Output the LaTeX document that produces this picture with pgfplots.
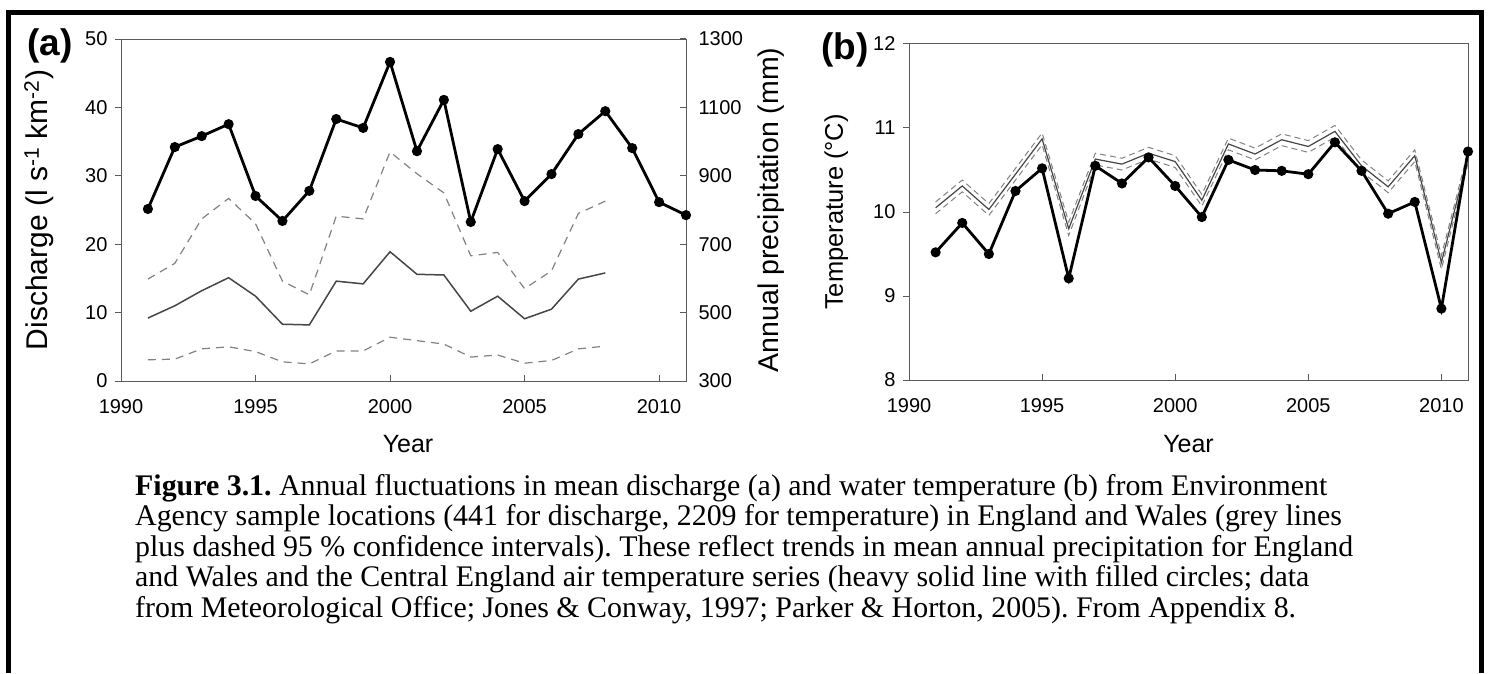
\documentclass[border=0pt]{standalone}
\usepackage{fontspec}
\setmainfont{Liberation Sans}
\newfontfamily\capfont{Liberation Serif}
\usepackage{pgfplots}
\usepackage{pgfplotstable}
\pgfplotsset{compat=1.18}
\frenchspacing

\pgfplotstableread{
year precip
1991 803
1992 984
1993 1016
1994 1051
1995 841
1996 768
1997 856
1998 1066
1999 1040
2000 1233
2001 972
2002 1122
2003 765
2004 978
2005 826
2006 905
2007 1022
2008 1089
2009 981
2010 823
2011 785
}\precip

\pgfplotstableread{
year mean lo hi
1991 9.2 3.1 14.9
1992 11.0 3.2 17.2
1993 13.2 4.7 23.7
1994 15.1 5.0 26.7
1995 12.4 4.3 23.0
1996 8.3 2.8 14.6
1997 8.2 2.5 12.6
1998 14.6 4.4 24.1
1999 14.2 4.4 23.7
2000 18.9 6.4 33.5
2001 15.6 5.9 30.3
2002 15.5 5.4 27.5
2003 10.2 3.5 18.3
2004 12.4 3.8 18.8
2005 9.1 2.6 13.5
2006 10.5 3.0 16.1
2007 14.9 4.7 24.5
2008 15.8 5.1 26.3
}\discharge

\pgfplotstableread{
year air water lo hi
1991 9.52 10.05 9.98 10.12
1992 9.87 10.31 10.24 10.38
1993 9.50 10.03 9.96 10.10
1994 10.25 10.45 10.38 10.52
1995 10.52 10.87 10.80 10.94
1996 9.21 9.80 9.72 9.88
1997 10.55 10.63 10.56 10.70
1998 10.34 10.57 10.50 10.64
1999 10.65 10.70 10.63 10.77
2000 10.31 10.60 10.53 10.67
2001 9.94 10.14 10.07 10.21
2002 10.62 10.81 10.74 10.88
2003 10.50 10.69 10.62 10.76
2004 10.49 10.86 10.79 10.93
2005 10.45 10.78 10.71 10.85
2006 10.83 10.96 10.89 11.03
2007 10.49 10.55 10.48 10.62
2008 9.98 10.30 10.23 10.37
2009 10.12 10.67 10.60 10.74
2010 8.85 9.40 9.32 9.48
2011 10.72 10.65 10.58 10.72
}\temps

\definecolor{axisgrey}{RGB}{90,90,90}
\definecolor{meangrey}{RGB}{70,70,70}
\definecolor{cigrey}{RGB}{130,130,130}

\pgfplotsset{
  base/.style={
    scale only axis,
    clip=false,
    axis line style={axisgrey, line width=1pt},
    tick style={axisgrey, line width=1pt},
    major tick length=6pt,
    tick label style={font=\fontsize{20}{24}\selectfont},
    label style={font=\fontsize{24}{28}\selectfont},
    /pgf/number format/assume math mode=true,
    /pgf/number format/1000 sep={},
    xmin=1990, xmax=2011,
    xtick={1990,1995,2000,2005,2010},
  },
  heavy/.style={black, line width=2.8pt, mark=*, mark size=3.6pt, mark options={solid}},
  meanline/.style={meangrey, line width=1.5pt},
  ciline/.style={cigrey, line width=1.2pt, dash pattern=on 8pt off 6pt},
}

\begin{document}
\begin{tikzpicture}[x=1pt,y=1pt]
\useasboundingbox (0,0) rectangle (1490,673);
\fill[white] (0,0) rectangle (1490,673);
% outer frame
\draw[black, line width=5pt] (8.5,0) -- (8.5,660) -- (1481.5,660) -- (1481.5,0);

% ---------- panel (a) ----------
\begin{axis}[base,
  at={(121pt,292pt)}, anchor=south west,
  width=565pt, height=342pt,
  ymin=0, ymax=50, ytick={0,10,...,50},
  tick pos=left,
  xtick align=inside, ytick align=outside,
  xticklabel style={yshift=-14.5pt},
  yticklabel style={xshift=-4pt},
  xlabel={Year},
  xlabel style={at={(axis description cs:0.508,-0.185)}, anchor=center, font=\fontsize{25}{29}\selectfont},
  ylabel={Discharge (l s\textsuperscript{-1} km\textsuperscript{-2})},
  ylabel style={at={(axis description cs:-0.145,0.5)}, anchor=center, font=\fontsize{30}{34}\selectfont},
]
\addplot[ciline] table[x=year,y=hi] {\discharge};
\addplot[ciline] table[x=year,y=lo] {\discharge};
\addplot[meanline] table[x=year,y=mean] {\discharge};
\end{axis}
\begin{axis}[base,
  at={(121pt,292pt)}, anchor=south west,
  width=565pt, height=342pt,
  axis x line=none, axis y line*=right,
  ymin=300, ymax=1300, ytick={300,500,...,1300},
  ytick align=inside,
  yticklabel style={xshift=9pt},
  ylabel={Annual precipitation (mm)},
  ylabel style={at={(axis description cs:1.15,0.5)}, anchor=center, font=\fontsize{28.5}{32}\selectfont},
]
\addplot[heavy] table[x=year,y=precip] {\precip};
\end{axis}
\node[anchor=base west, font=\fontsize{37}{40}\selectfont\bfseries, inner sep=0pt] at (27,617.5) {(a)};

% ---------- panel (b) ----------
\begin{axis}[base,
  at={(909pt,293pt)}, anchor=south west,
  width=559pt, height=336pt,
  ymin=8, ymax=12, ytick={8,9,...,12},
  tick pos=left,
  xtick align=inside, ytick align=outside,
  xticklabel style={yshift=-14.5pt},
  yticklabel style={xshift=-4pt},
  xlabel={Year},
  xlabel style={at={(axis description cs:0.5,-0.19)}, anchor=center, font=\fontsize{25}{29}\selectfont},
  ylabel={Temperature (°C)},
  ylabel style={at={(axis description cs:-0.13,0.5)}, anchor=center, font=\fontsize{25.5}{29}\selectfont},
]
\addplot[ciline, line width=1pt, dash pattern=on 6pt off 4pt] table[x=year,y=hi] {\temps};
\addplot[ciline, line width=1pt, dash pattern=on 6pt off 4pt] table[x=year,y=lo] {\temps};
\addplot[meanline, line width=1.2pt] table[x=year,y=water] {\temps};
\addplot[heavy] table[x=year,y=air] {\temps};
\end{axis}
\node[anchor=base west, font=\fontsize{37}{40}\selectfont\bfseries, inner sep=0pt] at (821,613) {(b)};

% ---------- caption ----------
\node[anchor=base west, align=left, inner sep=0pt,
      font=\capfont\fontsize{29.9}{30.4}\selectfont] at (135,56) {%
\textbf{Figure 3.1.} Annual fluctuations in mean discharge (a) and water temperature (b) from Environment\\
Agency sample locations (441 for discharge, 2209 for temperature) in England and Wales (grey lines\\
plus dashed 95 \% confidence intervals). These reflect trends in mean annual precipitation for England\\
and Wales and the Central England air temperature series (heavy solid line with filled circles; data\\
from Meteorological Office; Jones \& Conway, 1997; Parker \& Horton, 2005). From Appendix 8.};
\end{tikzpicture}
\end{document}
